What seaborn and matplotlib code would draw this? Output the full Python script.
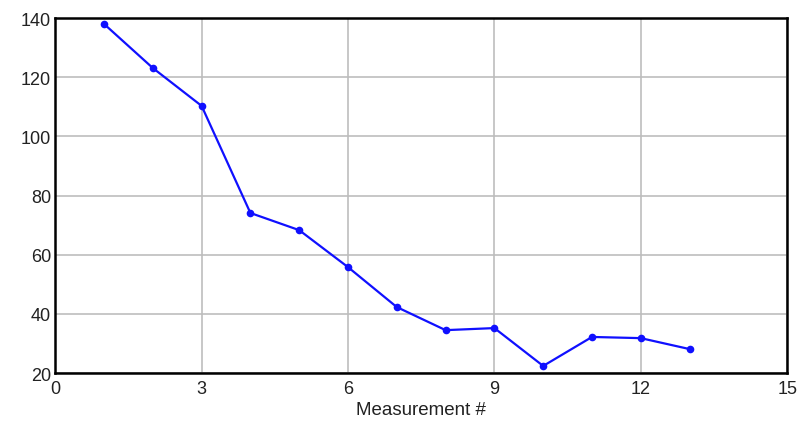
import matplotlib
matplotlib.use("Agg")
import matplotlib.pyplot as plt
import seaborn as sns
import pandas as pd

measurement = [1, 2, 3, 4, 5, 6, 7, 8, 9, 10, 11, 12, 13]
values = [138.0, 123.1, 110.3, 74.1, 68.3, 55.8, 42.3, 34.5, 35.2, 22.4, 32.2, 31.8, 28.1]
x_ticks = [0, 3, 6, 9, 12, 15]
y_ticks = [20, 40, 60, 80, 100, 120, 140]

sns.set_theme(style="white")
plt.rcParams['font.family'] = ['Liberation Sans', 'DejaVu Sans']

df = pd.DataFrame({"Measurement #": measurement, "value": values})

fig = plt.figure(figsize=(8, 4.27), dpi=100)
ax = fig.add_axes([0.069, 0.124, 0.915, 0.8315])
sns.lineplot(data=df, x="Measurement #", y="value", ax=ax, color="#1010ff",
             marker="o", markersize=5.5, markeredgewidth=0, linewidth=1.6)

ax.set_xlim(0, 15)
ax.set_ylim(20, 140)
ax.set_xticks(x_ticks)
ax.set_yticks(y_ticks)
ax.grid(True, color="#bdbdbd", linewidth=1.2)
ax.set_axisbelow(True)
for s in ax.spines.values():
    s.set_color("black")
    s.set_linewidth(1.8)
ax.tick_params(axis="y", length=0, pad=3, labelsize=13, colors="#222222")
ax.tick_params(axis="x", length=0, pad=5, labelsize=13, colors="#222222")
ax.set_ylabel("")
ax.set_xlabel("Measurement #", fontsize=13.5, color="#222222", labelpad=3)

fig.savefig("out.png", dpi=100, facecolor="white")
